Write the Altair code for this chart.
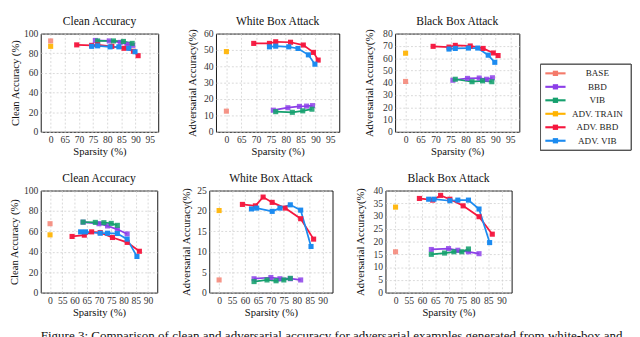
import altair as alt
import pandas as pd

METHODS = ["Base", "BBD", "VIB", "Adv. Train", "Adv. BBD", "Adv. VIB"]
LEGEND_LABELS = ["BASE", "BBD", "VIB", "ADV. TRAIN", "ADV. BBD", "ADV. VIB"]
COLORS = ["#F47A6A", "#8C3FE8", "#16A06E", "#FFB300", "#F5173E", "#1C8BF0"]

# ---- sparsity (%) per method, top row (first setting) ----
top_sp_bbd = [75.8, 80.7, 84.6, 87.0, 89.0]
top_sp_vib = [76.6, 82.2, 85.7, 88.8]
top_sp_advbbd = [69.2, 74.5, 76.6, 81.6, 85.9, 89.3, 90.9]
top_sp_advvib = [74.5, 76.6, 81.0, 84.1, 87.6, 89.8]

# top row: clean accuracy
tc_base, tc_advtrain = 92.5, 87.0
tc_bbd = [93.0, 92.5, 91.0, 89.0, 88.0]
tc_vib = [92.5, 92.5, 92.0, 90.0]
tc_advbbd = [88.5, 88.0, 88.5, 87.0, 85.0, 82.0, 77.5]
tc_advvib = [87.0, 87.5, 86.5, 86.5, 85.0, 81.5]

# top row: white box attack
tw_base, tw_advtrain = 12.6, 49.0
tw_bbd = [13.2, 14.7, 15.5, 15.7, 16.0]
tw_vib = [12.3, 11.9, 12.8, 13.8]
tw_advbbd = [54.0, 54.0, 55.0, 54.7, 53.0, 48.5, 43.8]
tw_advvib = [51.9, 52.3, 51.9, 50.9, 47.0, 41.3]

# top row: black box attack
tb_base, tb_advtrain = 41.0, 64.0
tb_bbd = [42.0, 43.5, 43.8, 42.8, 44.0]
tb_vib = [42.8, 40.8, 41.5, 40.8]
tb_advbbd = [69.6, 69.0, 70.4, 69.9, 67.9, 64.2, 62.1]
tb_advvib = [67.4, 67.9, 68.2, 68.2, 62.4, 56.6]

# ---- bottom row (second setting) ----
bot_sp_bbd = [63.5, 70.0, 73.5, 77.5, 81.5]
bot_sp_vib = [63.5, 68.5, 72.0, 75.0, 77.5]
bot_sp_advbbd = [59.0, 64.0, 67.0, 70.5, 75.5, 81.5, 86.5]
bot_sp_advvib = [62.5, 64.5, 70.5, 73.5, 77.5, 81.5, 85.5]

bc_base, bc_advtrain = 67.5, 56.6
bc_bbd = [69.0, 67.5, 65.3, 62.0, 57.5]
bc_vib = [69.1, 68.8, 68.5, 67.8, 65.9]
bc_advbbd = [55.0, 56.3, 59.5, 58.8, 54.0, 49.2, 40.5]
bc_advvib = [59.5, 59.5, 58.2, 58.2, 57.9, 52.4, 35.4]

bw_base, bw_advtrain = 3.1, 20.1
bw_bbd = [3.4, 3.7, 3.4, 3.4, 3.1]
bw_vib = [2.7, 3.1, 2.9, 3.1, 3.5]
bw_advbbd = [21.6, 21.25, 23.4, 22.1, 20.7, 18.1, 13.1]
bw_advvib = [20.5, 20.7, 19.9, 20.7, 21.5, 20.2, 11.3]

bb_base, bb_advtrain = 16.0, 33.5
bb_bbd = [16.9, 17.25, 16.6, 16.0, 15.25]
bb_vib = [15.0, 15.5, 16.0, 16.0, 17.1]
bb_advbbd = [36.9, 36.25, 38.1, 36.6, 34.0, 29.75, 22.9]
bb_advvib = [36.6, 36.6, 36.0, 36.25, 36.25, 32.75, 19.6]

CAPTION = ("Figure 3: Comparison of clean and adversarial accuracy for adversarial "
           "examples generated from white-box and")

FONT = "Liberation Serif"


def build_rows(sp, base, advtrain, bbd, vib, advbbd, advvib):
    rows = [{"method": "Base", "sparsity": 0.0, "acc": base},
            {"method": "Adv. Train", "sparsity": 0.0, "acc": advtrain}]
    for name, s_list, a_list in [("BBD", sp[0], bbd), ("VIB", sp[1], vib),
                                 ("Adv. BBD", sp[2], advbbd), ("Adv. VIB", sp[3], advvib)]:
        for s, a in zip(s_list, a_list):
            rows.append({"method": name, "sparsity": s, "acc": a})
    df = pd.DataFrame(rows)
    df["ord"] = df["method"].map({m: i for i, m in enumerate(METHODS)})
    return df


def panel(df, title, ytitle, ymax, ystep, xdom, xticks, zero_at, w, h, ext):
    base = alt.Chart(df).transform_calculate(
        xpos=f"datum.sparsity == 0 ? {zero_at} : datum.sparsity")
    x = alt.X("xpos:Q", scale=alt.Scale(domain=xdom, nice=False, zero=False),
              axis=alt.Axis(values=xticks, title="Sparsity (%)",
                            labelExpr=f"datum.value == {zero_at} ? '0' : datum.label"))
    y = alt.Y("acc:Q", scale=alt.Scale(domain=[0, ymax], nice=False),
              axis=alt.Axis(values=list(range(0, ymax + 1, ystep)), title=ytitle,
                            minExtent=ext, maxExtent=ext))
    color = alt.Color("method:N", scale=alt.Scale(domain=METHODS, range=COLORS), legend=None)
    lines = base.mark_line(strokeWidth=1.8).encode(
        x=x, y=y, color=color, order="sparsity:Q", detail="ord:Q")
    pts = base.mark_point(shape="square", filled=True, size=28).encode(
        x=x, y=y, color=color,
        opacity=alt.Opacity("method:N", scale=alt.Scale(domain=METHODS,
                                                         range=[0.8, 1, 1, 0.85, 1, 1]),
                            legend=None))
    return alt.layer(lines, pts).properties(width=w, height=h, title=title)


top_sp = [top_sp_bbd, top_sp_vib, top_sp_advbbd, top_sp_advvib]
bot_sp = [bot_sp_bbd, bot_sp_vib, bot_sp_advbbd, bot_sp_advvib]

top_x = [56.5, 98.0]
top_ticks = [60, 65, 70, 75, 80, 85, 90, 95]
bot_x = [46.2, 93.8]
bot_ticks = [50, 55, 60, 65, 70, 75, 80, 85, 90]

TH = 102
BH = 106

p1 = panel(build_rows(top_sp, tc_base, tc_advtrain, tc_bbd, tc_vib, tc_advbbd, tc_advvib),
           "Clean Accuracy", "Clean Accuracy (%)", 100, 20, top_x, top_ticks, 60, 122, TH, 16)
p2 = panel(build_rows(top_sp, tw_base, tw_advtrain, tw_bbd, tw_vib, tw_advbbd, tw_advvib),
           "White Box Attack", "Adversarial Accuracy(%)", 60, 10, top_x, top_ticks, 60, 128, TH, 14)
p3 = panel(build_rows(top_sp, tb_base, tb_advtrain, tb_bbd, tb_vib, tb_advbbd, tb_advvib),
           "Black Box Attack", "Adversarial Accuracy(%)", 80, 10, top_x, top_ticks, 60, 129, TH, 16)

p4 = panel(build_rows(bot_sp, bc_base, bc_advtrain, bc_bbd, bc_vib, bc_advbbd, bc_advvib),
           "Clean Accuracy", "Clean Accuracy (%)", 100, 20, bot_x, bot_ticks, 50, 121, BH, 17)
p5 = panel(build_rows(bot_sp, bw_base, bw_advtrain, bw_bbd, bw_vib, bw_advbbd, bw_advvib),
           "White Box Attack", "Adversarial Accuracy(%)", 25, 5, bot_x, bot_ticks, 50, 128, BH, 14)
p6 = panel(build_rows(bot_sp, bb_base, bb_advtrain, bb_bbd, bb_vib, bb_advbbd, bb_advvib),
           "Black Box Attack", "Adversarial Accuracy(%)", 40, 5, bot_x, bot_ticks, 50, 131, BH, 16)

# ---- manual legend (origin aligned with the top row's plot areas) ----
leg_df = pd.DataFrame({"method": METHODS, "label": LEGEND_LABELS, "idx": list(range(6))})
leg_y = alt.Y("idx:Q", scale=alt.Scale(domain=[-2.95, 4.336], reverse=True, nice=False, zero=False),
              axis=None)
leg_color = alt.Color("method:N", scale=alt.Scale(domain=METHODS, range=COLORS), legend=None)
leg_base = alt.Chart(leg_df)
leg_frame = leg_base.mark_rect(fill="white", stroke="#555", strokeWidth=1).encode(
    x=alt.value(0), x2=alt.value(94), y=alt.value(32), y2=alt.value(121))
leg_line = leg_base.mark_rule(strokeWidth=2.2).encode(
    x=alt.value(5), x2=alt.value(26), y=leg_y, color=leg_color)
leg_pt = leg_base.mark_point(shape="square", filled=True, size=30, opacity=1).encode(
    x=alt.value(15.5), y=leg_y, color=leg_color)
leg_txt = leg_base.mark_text(align="center", baseline="middle", font=FONT, fontSize=9.5,
                             color="#222").encode(x=alt.value(59), y=leg_y, text="label:N")
legend = alt.layer(leg_frame, leg_line, leg_pt, leg_txt).properties(
    width=94, height=TH, view=alt.ViewBackground(stroke="transparent"))

caption = alt.Chart(pd.DataFrame({"t": [CAPTION]})).mark_text(
    align="left", baseline="top", font=FONT, fontSize=13.5, color="#111").encode(
    text="t:N", x=alt.value(0), y=alt.value(0)).properties(
    width=600, height=12, view=alt.ViewBackground(stroke="transparent"))

top = alt.hconcat(alt.hconcat(alt.hconcat(p1, p2, spacing=28), p3, spacing=24), legend, spacing=20)
bottom = alt.hconcat(alt.hconcat(p4, p5, spacing=22), p6, spacing=21)

chart = alt.vconcat(alt.vconcat(top, bottom, spacing=14), caption, spacing=10).properties(
    padding=0
).configure_view(
    stroke="#111", strokeWidth=1
).configure_axis(
    labelFont=FONT, labelFontSize=10, labelColor="#333",
    titleFont=FONT, titleFontSize=11, titleFontWeight="normal", titleColor="#111",
    domain=False, ticks=False,
    grid=True, gridDash=[2, 2], gridColor="#cfcfcf", gridWidth=0.8
).configure_axisX(titlePadding=2, labelPadding=3).configure_axisY(titlePadding=5, labelPadding=3).configure_title(
    font=FONT, fontSize=12, fontWeight="normal", color="#111", offset=1
)

chart.save("out.html", embed_options={"renderer": "svg", "actions": False})
